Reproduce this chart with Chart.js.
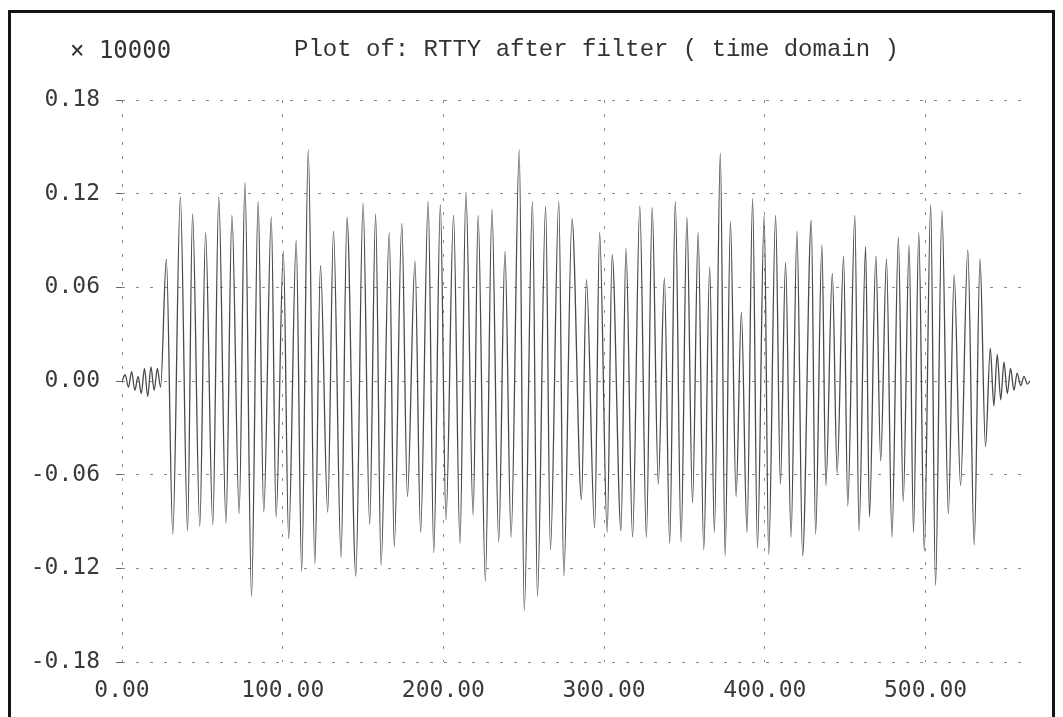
<!DOCTYPE html>
<html>
<head>
<meta charset="utf-8">
<script src="https://cdn.jsdelivr.net/npm/chart.js@4/dist/chart.umd.min.js"></script>
<style>
  body { margin: 0; background: #fff; }
  #wrap { position: relative; width: 1063px; height: 717px; overflow: hidden; }
  #frame {
    position: absolute; left: 8px; top: 10px; width: 1047px; height: 740px;
    border: 3px solid #151515; box-sizing: border-box; pointer-events: none;
  }
  .txt {
    position: absolute; white-space: pre; color: #333;
    font-family: "Liberation Mono", "DejaVu Sans Mono", monospace; font-size: 24px;
  }
  #scale { left: 70px; top: 36px; font-family: "DejaVu Sans Mono", monospace; font-size: 24px; }
  #title { left: 294px; top: 36px; }
  canvas { position: absolute; left: 0; top: 0; }
</style>
</head>
<body>
<div id="wrap">
  <canvas id="plot" width="1063" height="717"></canvas>
  <div id="frame"></div>
  <div class="txt" id="scale">× 10000</div>
  <div class="txt" id="title">Plot of: RTTY after filter ( time domain )</div>
</div>
<script>
// sample positions (time) and amplitude, peaks/troughs
const timeX = [
  0, 2, 4, 6, 8, 10, 12, 14, 16, 18, 20, 22, 24,
  27.6, 31.6, 36.3, 40.8, 43.9, 48.4, 52.0, 56.5, 60.2, 64.7, 68.4, 72.9,
  76.5, 80.6, 84.7, 88.2, 92.9, 95.9, 100.4, 103.7, 108.4, 111.8, 115.9, 120.0,
  123.5, 128.0, 131.6, 136.3, 140.0, 145.5, 150.0, 154.1, 157.8, 161.2, 166.3, 169.4,
  174.1, 177.6, 182.3, 185.8, 190.5, 194.0, 198.1, 201.6, 206.3, 210.3, 214.0, 218.5,
  221.6, 226.1, 230.2, 234.4, 238.3, 242.1, 247.2, 250.3, 255.4, 258.5, 263.6, 266.6,
  271.8, 274.9, 280.0, 285.9, 289.0, 294.1, 297.2, 301.9, 305.0, 310.5, 313.6, 317.7,
  322.2, 326.3, 329.9, 333.7, 337.5, 340.8, 344.3, 347.9, 351.5, 355.0, 358.5, 362.0,
  365.7, 368.6, 372.3, 375.3, 378.6, 382.1, 385.4, 388.9, 392.4, 395.4, 399.6, 402.4,
  406.7, 409.7, 412.9, 416.3, 420.0, 423.5, 428.9, 431.6, 435.5, 438.0, 442.0, 445.0,
  449.0, 451.6, 456.0, 458.6, 462.7, 465.1, 469.1, 472.1, 475.7, 479.1, 483.1, 486.1,
  489.8, 492.5, 495.8, 499.2, 503.2, 506.2, 510.2, 514.2, 517.8, 521.8, 526.3, 530.3,
  533.9, 537.3, 540.3, 542.5, 544.6, 546.8, 548.8, 550.9, 552.9, 555.0, 557.0, 559.2,
  561.3, 563.4, 565
];
const amplitude = [
  0.000, 0.004, -0.004, 0.006, -0.006, 0.003, -0.008, 0.008, -0.010, 0.009, -0.006, 0.008, -0.004,
  0.078, -0.098, 0.118, -0.096, 0.107, -0.093, 0.095, -0.092, 0.118, -0.091, 0.106, -0.085,
  0.127, -0.138, 0.115, -0.084, 0.105, -0.087, 0.083, -0.101, 0.090, -0.122, 0.148, -0.117,
  0.074, -0.084, 0.096, -0.113, 0.105, -0.125, 0.114, -0.092, 0.107, -0.118, 0.095, -0.106,
  0.101, -0.074, 0.077, -0.097, 0.115, -0.110, 0.113, -0.089, 0.106, -0.104, 0.121, -0.086,
  0.106, -0.128, 0.110, -0.103, 0.083, -0.100, 0.148, -0.147, 0.115, -0.138, 0.112, -0.108,
  0.115, -0.125, 0.104, -0.076, 0.065, -0.094, 0.095, -0.097, 0.081, -0.096, 0.085, -0.100,
  0.112, -0.100, 0.111, -0.066, 0.066, -0.104, 0.115, -0.103, 0.105, -0.078, 0.095, -0.108,
  0.073, -0.097, 0.146, -0.112, 0.102, -0.074, 0.044, -0.097, 0.117, -0.107, 0.106, -0.111,
  0.106, -0.066, 0.076, -0.100, 0.096, -0.112, 0.103, -0.098, 0.087, -0.067, 0.069, -0.059,
  0.080, -0.080, 0.106, -0.096, 0.086, -0.087, 0.080, -0.051, 0.078, -0.100, 0.092, -0.077,
  0.087, -0.097, 0.095, -0.109, 0.113, -0.131, 0.109, -0.085, 0.068, -0.067, 0.084, -0.105,
  0.078, -0.042, 0.021, -0.016, 0.017, -0.012, 0.012, -0.008, 0.008, -0.006, 0.005, -0.003,
  0.003, -0.002, 0.000
];
const xTicks = [0, 100, 200, 300, 400, 500];
const yTicks = [-0.18, -0.12, -0.06, 0, 0.06, 0.12, 0.18];

const points = timeX.map((x, i) => ({ x: x, y: amplitude[i] }));
const tickFont = { family: '"DejaVu Sans Mono", monospace', size: 23 };

new Chart(document.getElementById('plot').getContext('2d'), {
  type: 'line',
  data: {
    datasets: [{
      data: points,
      borderColor: '#4a4a4a',
      borderWidth: 1.3,
      pointRadius: 0,
      cubicInterpolationMode: 'monotone',
      fill: false
    }]
  },
  options: {
    responsive: false,
    animation: false,
    devicePixelRatio: 1,
    layout: { padding: { left: 0, right: 33, top: 100, bottom: 0 } },
    plugins: { legend: { display: false }, tooltip: { enabled: false } },
    scales: {
      x: {
        type: 'linear',
        min: 0,
        max: 565,
        afterFit: s => { s.height = 55; },
        afterBuildTicks: s => { s.ticks = xTicks.map(v => ({ value: v })); },
        ticks: {
          color: '#3a3a3a',
          font: tickFont,
          padding: 15,
          maxRotation: 0,
          callback: v => v.toFixed(2)
        },
        grid: { color: '#8a8a8a', lineWidth: 1, drawTicks: false },
        border: { display: false, dash: [3, 11] }
      },
      y: {
        min: -0.18,
        max: 0.18,
        afterFit: s => { s.width = 122; },
        afterBuildTicks: s => { s.ticks = yTicks.map(v => ({ value: v })); },
        ticks: {
          color: '#3a3a3a',
          font: tickFont,
          padding: 16,
          callback: v => v.toFixed(2)
        },
        grid: { color: '#8a8a8a', lineWidth: 1, drawTicks: true, tickLength: 6, tickColor: '#666' },
        border: { display: false, dash: [3, 11] }
      }
    }
  }
});
</script>
</body>
</html>
